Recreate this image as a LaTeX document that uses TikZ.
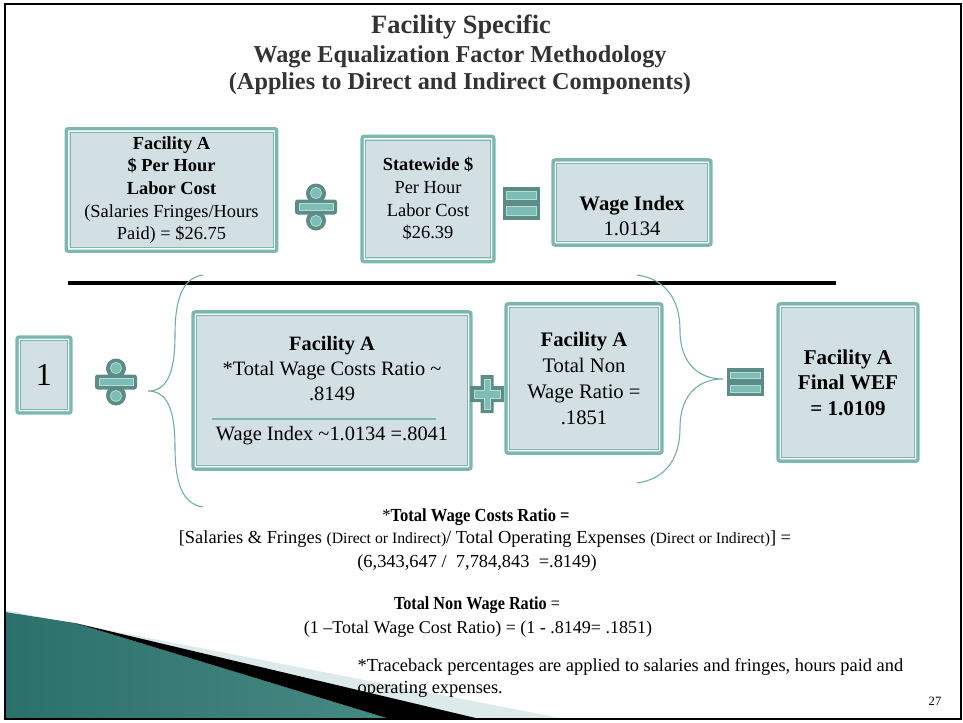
\documentclass[tikz,border=0pt]{standalone}
\usepackage{fontspec}
\usepackage{graphicx}
\setmainfont{Liberation Serif}

\definecolor{boxfill}{HTML}{D2E0E3}
\definecolor{boxedge}{HTML}{7BB8B1}
\definecolor{signdark}{HTML}{5B8C86}
\definecolor{signlight}{HTML}{7DBDB5}
\definecolor{bracecol}{HTML}{6AAEA7}
\definecolor{stripcol}{HTML}{DCEBEA}
\definecolor{wedgedark}{HTML}{2C706B}
\definecolor{wedgelight}{HTML}{86C7BF}

\tikzset{
  wefbox/.style={draw=boxedge, fill=boxfill, line width=2.4pt, rounded corners=1.5pt,
    inner sep=0pt, align=center,
    path picture={
      \draw[white, line width=1pt, sharp corners]
        ([shift={(1.8pt,-1.8pt)}]path picture bounding box.north west) rectangle
        ([shift={(-1.8pt,1.8pt)}]path picture bounding box.south east);
      \draw[boxedge, line width=0.7pt, sharp corners]
        ([shift={(2.9pt,-2.9pt)}]path picture bounding box.north west) rectangle
        ([shift={(-2.9pt,2.9pt)}]path picture bounding box.south east);}},
  brace/.style={draw=bracecol, line width=0.8pt},
  sepline/.style={draw=boxedge, line width=1.4pt},
  inner/.style={fill=signlight, draw=signlight!55!white, line width=0.6pt},
  pics/divsign/.style={code={
    \fill[signdark, rounded corners=2pt] (-21,-7.5) rectangle (21,7.5);
    \fill[signdark] (0,-13.5) circle[radius=7.5pt] (0,13.5) circle[radius=7.5pt];
    \filldraw[inner] (-17,-3.5) rectangle (17,3.5);
    \filldraw[inner] (0,-14) circle[radius=4.2pt] (0,14) circle[radius=4.2pt];
  }},
  pics/eqsign/.style 2 args={code={
    \fill[signdark] (-18.5,-#1) rectangle (18.5,#1);
    \filldraw[inner] (-15,-#2) rectangle (15,-3.5) (-15,3.5) rectangle (15,#2);
  }},
  pics/plussign/.style={code={
    \fill[signdark] (-6.5,-19) -- (6.5,-19) -- (6.5,-8) -- (17,-8) -- (17,8) -- (6.5,8)
      -- (6.5,19) -- (-6.5,19) -- (-6.5,8) -- (-17,8) -- (-17,-8) -- (-6.5,-8) -- cycle;
    \filldraw[inner] (-3,-15) -- (3,-15) -- (3,-4) -- (13,-4) -- (13,4) -- (3,4)
      -- (3,15) -- (-3,15) -- (-3,4) -- (-13,4) -- (-13,-4) -- (-3,-4) -- cycle;
  }}
}

\begin{document}
\begin{tikzpicture}[x=0.75pt, y=-0.75pt, font=\fontsize{13.8}{17}\selectfont]
\useasboundingbox (0,0) rectangle (963,722);

% corner wedge
\fill[stripcol] (5,610) -- (565,719) -- (5,719) -- cycle;
\shade[left color=wedgedark, middle color=wedgelight, right color=wedgedark!70!wedgelight]
  (5,612) -- (75,623) -- (390,719) -- (5,719) -- cycle;
\fill[black] (75,623) -- (480,719) -- (390,719) -- cycle;

% frame
\draw[line width=2.2pt] (5,4) rectangle (961,719);

% heading
\node[font=\fontsize{19.8}{23}\selectfont\bfseries, text=black!80] (ttl1) at (461,27) {Facility Specific};
\node[font=\fontsize{18.2}{21}\selectfont\bfseries, text=black!80] (ttl2) at (460,57) {Wage Equalization Factor Methodology};
\node[font=\fontsize{18.2}{21}\selectfont\bfseries, text=black!80] (ttl3) at (460,84) {(Applies to Direct and Indirect Components)};

% wage index
\node[wefbox, minimum width=158pt, minimum height=92pt] (fac) at (171.5,190)
  {\textbf{Facility A}\\ \textbf{\$ Per Hour}\\ \textbf{Labor Cost}\\ (Salaries Fringes/Hours\\ Paid) = \$26.75};
\pic at (316,207) {divsign};
\node[wefbox, minimum width=99pt, minimum height=94pt] (state) at (428,199)
  {\textbf{Statewide \$}\\ Per Hour\\ Labor Cost\\ \$26.39};
\pic at (521,203) {eqsign={16.5}{12}};
\node[wefbox, minimum width=118.5pt, minimum height=64pt] (wix) at (632,202.5) {};
\node[align=center, font=\fontsize{15.5}{19}\selectfont] (wixtxt) at (632,216) {\textbf{Wage Index}\\ 1.0134};

\draw[line width=3pt] (68,283) -- (836,283);

% final wef
\node[wefbox, minimum width=40.5pt, minimum height=57pt, font=\fontsize{24}{28}\selectfont] (one) at (44,375) {1};
\pic at (116,382) {divsign};
\node[wefbox, minimum width=208.5pt, minimum height=118pt, font=\fontsize{15.3}{19}\selectfont] (ratio) at (332,390.5)
  {\textbf{Facility A}\\ *Total Wage Costs Ratio \textasciitilde\\ .8149\\[11pt] Wage Index \textasciitilde1.0134 =.8041};
\draw[sepline] (212,419) -- (436,419);
\pic at (487,394) {plussign};
\node[wefbox, minimum width=117pt, minimum height=112pt, font=\fontsize{15.5}{19.5}\selectfont] (nonw) at (584,378.5)
  {\textbf{Facility A}\\ Total Non\\ Wage Ratio =\\ .1851};
\pic at (745,382) {eqsign={14}{10}};
\node[wefbox, minimum width=105pt, minimum height=118pt, font=\fontsize{15.8}{19}\selectfont\bfseries] (wef) at (848,382.5)
  {Facility A\\ Final WEF\\ = 1.0109};

% braces
\coordinate (lbtop) at (203,275);
\coordinate (lbtip) at (148,391);
\coordinate (lbbot) at (203,507);
\draw[brace] (lbtop) .. controls (182,278) and (175,300) .. (175,335)
  .. controls (175,375) and (166,391) .. (lbtip)
  .. controls (166,391) and (175,407) .. (175,447)
  .. controls (175,482) and (182,504) .. (lbbot);
\coordinate (rbtop) at (637,275);
\coordinate (rbtip) at (723,379);
\coordinate (rbbot) at (637,483);
\draw[brace] (rbtop) .. controls (666,279) and (680,300) .. (680,330)
  .. controls (680,365) and (700,379) .. (rbtip)
  .. controls (700,379) and (680,393) .. (680,428)
  .. controls (680,458) and (666,479) .. (rbbot);

% notes
\node (twcr) at (476,517) {\scalebox{0.9}[1]{*\textbf{Total Wage Costs Ratio =}}};
\node (twcf) at (485,539) {[Salaries \& Fringes {\fontsize{11.8}{14}\selectfont(Direct or Indirect)}/ Total Operating Expenses {\fontsize{11.8}{14}\selectfont(Direct or Indirect)}] =};
\node (twcv) at (477,563) {(6,343,647 /\ \ 7,784,843\ \ =.8149)};
\node (tnwr) at (477,605) {\scalebox{0.88}[1]{\textbf{Total Non Wage Ratio} =}};
\node[font=\fontsize{13.5}{17}\selectfont] (tnwf) at (478,629) {(1 –Total Wage Cost Ratio) = (1 - .8149= .1851)};
\node[anchor=west, align=left] (trace) at (353,678)
  {*Traceback percentages are applied to salaries and fringes, hours paid and\\ operating expenses.};
\node[font=\fontsize{9.5}{11}\selectfont] (pgno) at (935,701) {27};
\end{tikzpicture}
\end{document}
